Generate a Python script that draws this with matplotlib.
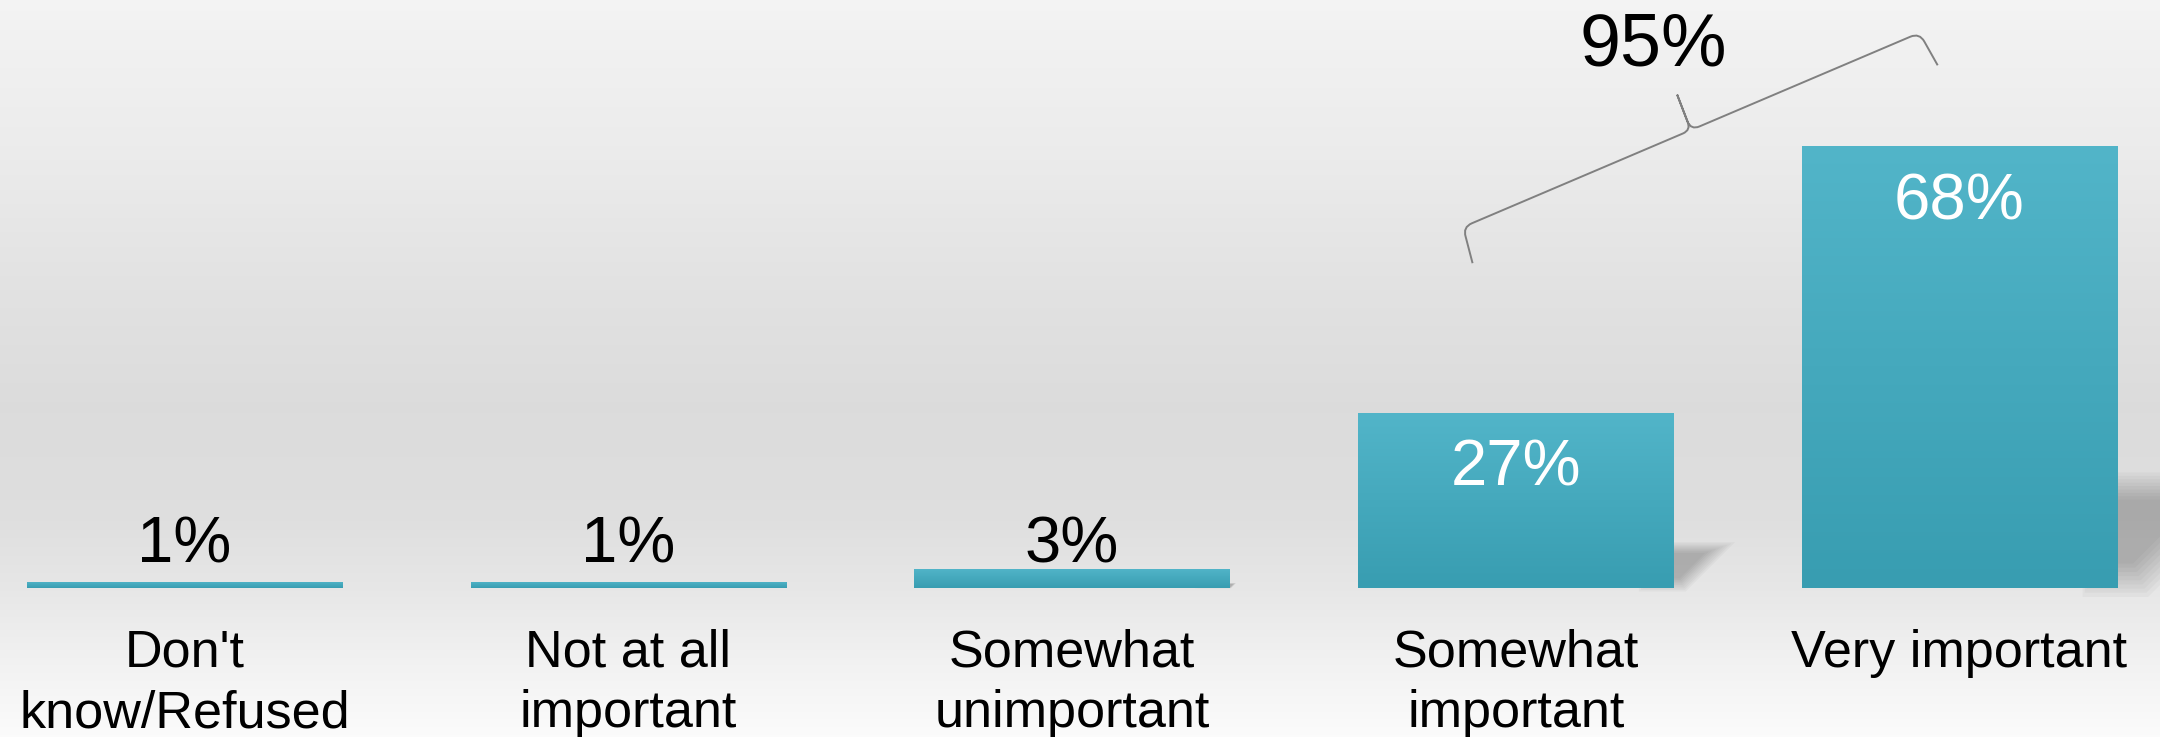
import numpy as np
import matplotlib
matplotlib.use('Agg')
import matplotlib.pyplot as plt
import matplotlib.colors as mcolors
import matplotlib.transforms as mtransforms
from matplotlib.path import Path
from matplotlib.patches import PathPatch, Polygon

# data
categories = ["Don't\nknow/Refused", "Not at all\nimportant", "Somewhat\nunimportant",
              "Somewhat\nimportant", "Very important"]
values = [1, 1, 3, 27, 68]
combined = values[3] + values[4]   # bracket over the two "important" bars

plt.rcParams['font.family'] = ['Liberation Sans', 'DejaVu Sans']

W, H = 2160, 737
fig = plt.figure(figsize=(W / 100., H / 100.), dpi=100)

# background gradient (light top, grey middle, almost white bottom)
bg = fig.add_axes([0, 0, 1, 1], zorder=0)
stops = [(0.0, 0.955), (0.1, 0.94), (0.2, 0.925), (0.4, 0.885), (0.55, 0.862),
         (0.7, 0.872), (0.8, 0.905), (0.88, 0.94), (1.0, 0.985)]
yy = np.linspace(0, 1, 400)
gray = np.interp(yy, [s[0] for s in stops], [s[1] for s in stops])
bg.imshow(gray[:, None, None] * np.ones((1, 1, 3)),
          aspect='auto', extent=(0, 1, 0, 1), origin='upper')
bg.set_axis_off()

ax = fig.add_axes([0, 0, 1, 1], zorder=1)
ax.patch.set_visible(False)
ax.set_axis_off()

xlim = (-0.4158, 4.4518)
ylim = (-22.92, 90.46)
px_x = W / (xlim[1] - xlim[0])   # pixels per x unit
px_y = H / (ylim[1] - ylim[0])   # pixels per %

x = np.arange(len(values))
bars = ax.bar(x, values, width=0.71, color='#45a9bd', zorder=3)

bar_cmap = mcolors.LinearSegmentedColormap.from_list('bar', ['#52b5c9', '#389db1'])
grad = np.linspace(0, 1, 256)[:, None]
for b in bars:
    x0, y0, w, h = b.get_x(), b.get_y(), b.get_width(), b.get_height()
    im = ax.imshow(grad, cmap=bar_cmap, extent=(x0, x0 + w, y0, y0 + h),
                   aspect='auto', origin='upper', zorder=4)
    im.set_clip_path(b)

    # soft shadow behind the right edge
    sh = 0.245 * h * px_y            # shadow height in px
    if sh < 3:
        continue
    wpx = 1.25 * sh
    xr = x0 + w
    base = np.array([(-30, 0), (-30, sh), (wpx, sh), (0.2 * wpx, 0)], dtype=float)
    cx, cy = 0.0, 0.55 * sh
    for k in range(9):
        f = 1.15 - k * 0.07
        pts = np.column_stack([xr + (cx + (base[:, 0] - cx) * f) / px_x,
                               (cy + (base[:, 1] - cy) * f) / px_y])
        ax.add_patch(Polygon(pts, closed=True, facecolor='black', edgecolor='none',
                             alpha=0.026, zorder=2))

# value labels
for xi, v in zip(x, values):
    if v > 10:
        ax.text(xi, v - 11.3, '%d%%' % v, ha='center', va='baseline',
                fontsize=47, color='white', zorder=6)
    else:
        ax.text(xi, 3.9, '%d%%' % v, ha='center', va='baseline',
                fontsize=47, color='black', zorder=6)

# category labels
for xi, c in zip(x, categories):
    ax.text(xi, -6.3, c, ha='center', va='top', fontsize=37.5,
            color='black', linespacing=1.3)

ax.set_xlim(*xlim)
ax.set_ylim(*ylim)

# curly brace over the two top bars (drawn in pixel coords, y down)
P0 = np.array([1463.6, 226.8])
P1 = np.array([1918.6, 33.2])
L = np.hypot(*(P1 - P0))
u = (P1 - P0) / L
n = np.array([abs(u[1]), abs(u[0])])
m = L / 2.
verts = [(-6, 37), (-2, 10), (-1, 0), (9, 0), (m - 9, 0), (m, 0), (m, -9), (m + 1, -38),
         (m + 1, -38), (m, -9), (m, 0), (m + 9, 0), (L - 9, 0), (L + 1, 0), (L + 2, 10), (L + 5, 37)]
codes = [Path.MOVETO, Path.LINETO, Path.CURVE3, Path.CURVE3, Path.LINETO, Path.CURVE3, Path.CURVE3,
         Path.LINETO,
         Path.MOVETO, Path.LINETO, Path.CURVE3, Path.CURVE3, Path.LINETO, Path.CURVE3, Path.CURVE3,
         Path.LINETO]
loc2px = mtransforms.Affine2D(np.array([[u[0], n[0], P0[0]],
                                        [u[1], n[1], P0[1]],
                                        [0, 0, 1]]))
px2fig = mtransforms.Affine2D().scale(1. / W, -1. / H).translate(0, 1)
brace = PathPatch(Path(verts, codes), facecolor='none', edgecolor='#808080', lw=1.4,
                  transform=loc2px + px2fig + fig.transFigure, zorder=5)
fig.patches.append(brace)

fig.text(1653. / W, 1 - 66. / H, '%d%%' % combined, ha='center', va='baseline',
         fontsize=53, color='black')

plt.savefig('out.png', dpi=100)
